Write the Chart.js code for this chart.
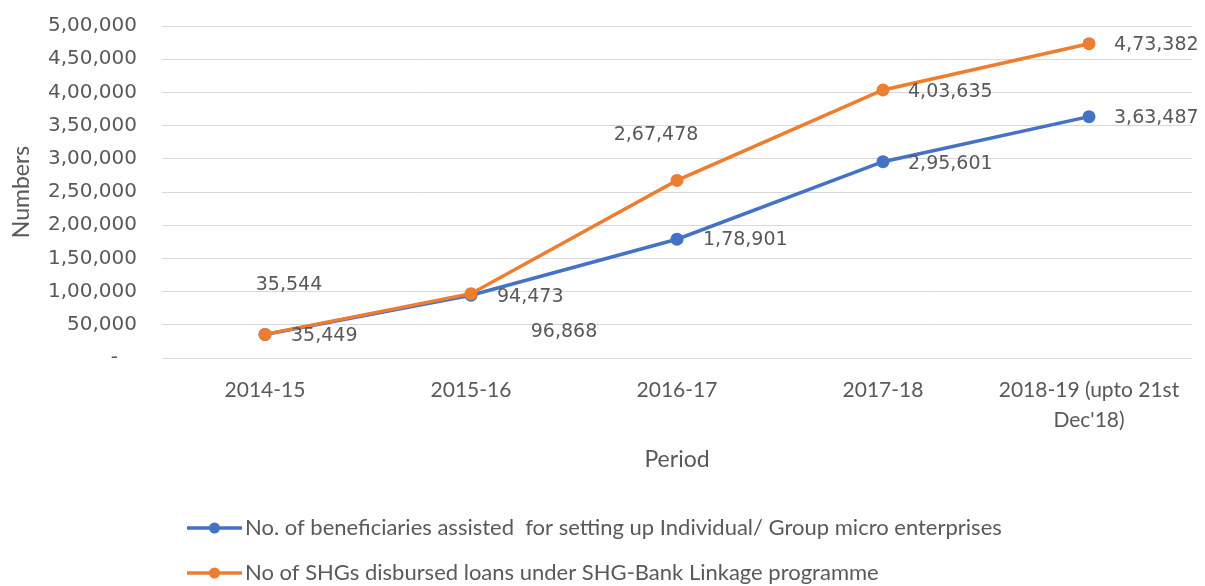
<!DOCTYPE html>
<html>
<head>
<meta charset="utf-8">
<script src="https://cdn.jsdelivr.net/npm/chart.js@4/dist/chart.umd.min.js"></script>
<style>
  body { margin: 0; background: #fff; }
  #wrap { width: 1205px; height: 586px; position: relative; }
</style>
</head>
<body>
<div id="wrap"><canvas id="chart"></canvas></div>
<script>
// data
const periods = ['2014-15', '2015-16', '2016-17', '2017-18', ['2018-19 (upto 21st', "Dec'18)"]];
const beneficiaries = [35449, 94473, 178901, 295601, 363487];
const shgLoans = [35544, 96868, 267478, 403635, 473382];
const seriesNames = [
    'No. of beneficiaries assisted  for setting up Individual/ Group micro enterprises',
    'No of SHGs disbursed loans under SHG-Bank Linkage programme'
];

const BLUE = '#4472C4';
const ORANGE = '#ED7D31';
const GREY = '#595959';

// indian grouping: 4,73,382
function indian(n) {
    const s = String(Math.round(n));
    if (s.length <= 3) return s;
    const last3 = s.slice(-3);
    let rest = s.slice(0, -3);
    const parts = [];
    while (rest.length > 2) {
        parts.unshift(rest.slice(-2));
        rest = rest.slice(0, -2);
    }
    if (rest) parts.unshift(rest);
    return parts.join(',') + ',' + last3;
}

// where each value label sits relative to its point
const labelPlacement = {
    0: [ // beneficiaries
        { dx: 26, dy: 2, align: 'left' },
        { dx: 26, dy: 2, align: 'left' },
        { dx: 26, dy: 1, align: 'left' },
        { dx: 25, dy: 2, align: 'left' },
        { dx: 25, dy: 1, align: 'left' }
    ],
    1: [ // SHG loans
        { dx: 24, dy: -49, align: 'center' },
        { dx: 93, dy: 38, align: 'center' },
        { dx: -21, dy: -45, align: 'center' },
        { dx: 25, dy: 2, align: 'left' },
        { dx: 25, dy: 1, align: 'left' }
    ]
};

const valueLabels = {
    id: 'valueLabels',
    afterDatasetsDraw(chart) {
        const ctx = chart.ctx;
        ctx.save();
        ctx.font = '19px "DejaVu Sans"';
        ctx.fillStyle = GREY;
        ctx.textBaseline = 'middle';
        chart.data.datasets.forEach(function(ds, i) {
            const meta = chart.getDatasetMeta(i);
            meta.data.forEach(function(pt, j) {
                const p = labelPlacement[i][j];
                ctx.textAlign = p.align;
                ctx.fillText(indian(ds.data[j]), pt.x + p.dx, pt.y + p.dy);
            });
        });
        ctx.restore();
    }
};

const bottomLegend = {
    id: 'bottomLegend',
    afterDraw(chart) {
        const ctx = chart.ctx;
        const rows = [528, 573];
        ctx.save();
        chart.data.datasets.forEach(function(ds, i) {
            const y = rows[i];
            ctx.strokeStyle = ds.borderColor;
            ctx.lineWidth = 3.5;
            ctx.beginPath();
            ctx.moveTo(187, y);
            ctx.lineTo(242, y);
            ctx.stroke();
            ctx.fillStyle = ds.borderColor;
            ctx.beginPath();
            ctx.arc(214.5, y, 5.5, 0, Math.PI * 2);
            ctx.fill();
            ctx.fillStyle = GREY;
            ctx.font = '22px Lato';
            ctx.textAlign = 'left';
            ctx.textBaseline = 'middle';
            ctx.fillText(ds.label, 245, y);
        });
        ctx.restore();
    }
};

const ctx = document.getElementById('chart').getContext('2d');
new Chart(ctx, {
    type: 'line',
    data: {
        labels: periods,
        datasets: [
            {
                label: seriesNames[0],
                data: beneficiaries,
                borderColor: BLUE,
                backgroundColor: BLUE,
                pointBackgroundColor: BLUE,
                borderWidth: 3.5,
                pointRadius: 6.5,
                pointBorderWidth: 0,
                tension: 0,
                order: 1
            },
            {
                label: seriesNames[1],
                data: shgLoans,
                borderColor: ORANGE,
                backgroundColor: ORANGE,
                pointBackgroundColor: ORANGE,
                borderWidth: 3.5,
                pointRadius: 6.5,
                pointBorderWidth: 0,
                tension: 0,
                order: 0
            }
        ]
    },
    options: {
        responsive: true,
        maintainAspectRatio: false,
        animation: false,
        layout: { padding: { top: 26, right: 13, bottom: 100, left: 0 } },
        plugins: {
            legend: { display: false },
            tooltip: { enabled: false }
        },
        scales: {
            x: {
                offset: true,
                grid: { display: false, drawTicks: false },
                border: { display: false },
                ticks: {
                    color: GREY,
                    font: { family: 'Lato', size: 21, lineHeight: 1.43 },
                    padding: 17,
                    maxRotation: 0,
                    autoSkip: false
                },
                title: {
                    display: true,
                    text: 'Period',
                    color: GREY,
                    font: { family: 'Lato', size: 23 },
                    padding: { top: 0, bottom: 13 }
                },
                afterFit(scale) { scale.height = 128; }
            },
            y: {
                min: 0,
                max: 500000,
                grid: {
                    color: '#D9D9D9',
                    lineWidth: 1,
                    drawTicks: true,
                    tickLength: 25,
                    tickColor: 'rgba(0,0,0,0)'
                },
                border: { display: false },
                ticks: {
                    stepSize: 50000,
                    color: GREY,
                    font: { family: 'DejaVu Sans', size: 20 },
                    padding: 0,
                    callback: function(v) { return v === 0 ? '-   ' : indian(v); }
                },
                title: {
                    display: true,
                    text: 'Numbers',
                    color: GREY,
                    font: { family: 'Lato', size: 23 },
                    padding: { top: 8, bottom: 0 }
                },
                afterFit(scale) { scale.width = 162; }
            }
        }
    },
    plugins: [valueLabels, bottomLegend]
});
</script>
</body>
</html>
